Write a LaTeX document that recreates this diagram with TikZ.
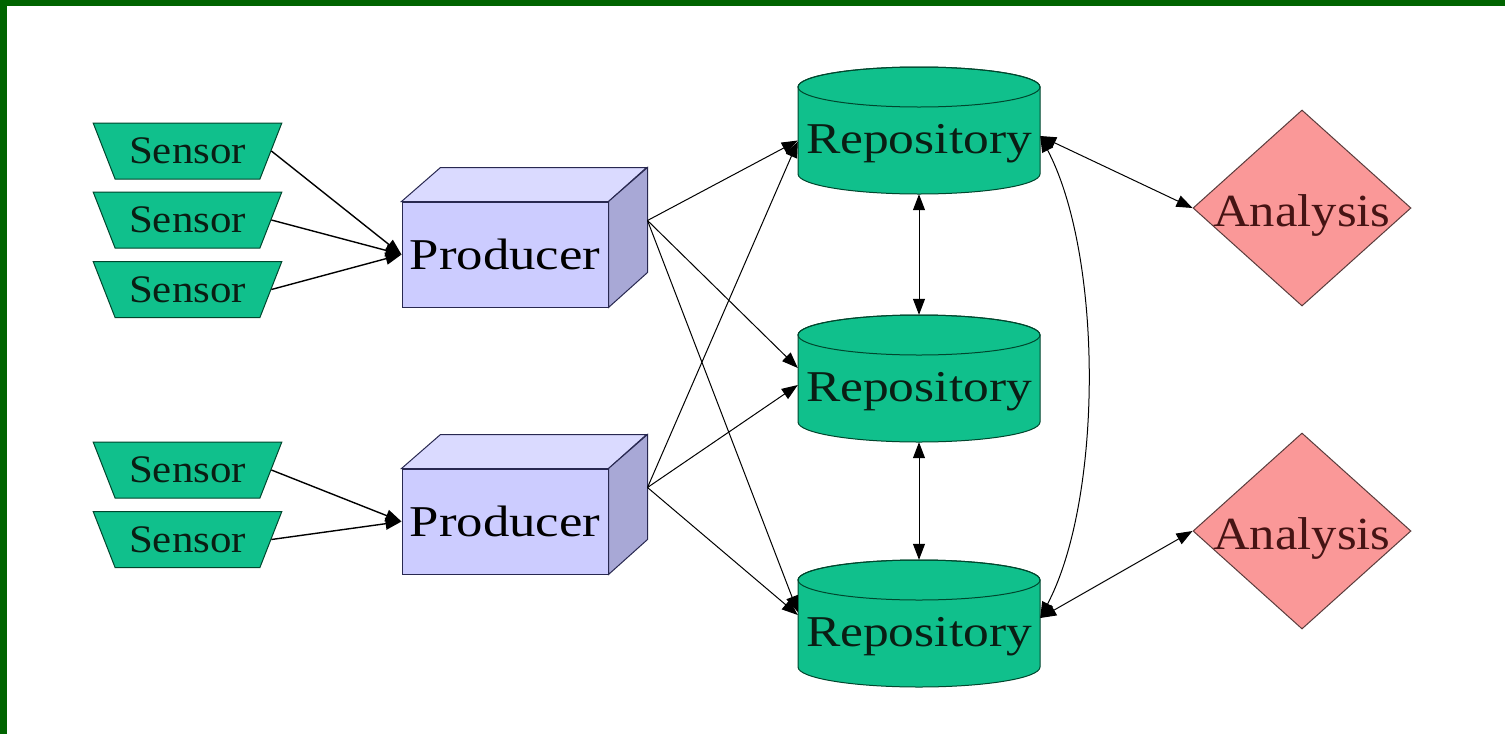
\documentclass[tikz,border=0pt]{standalone}
\usepackage{fontspec}
\setmainfont{Liberation Serif}
\newfontfamily\repfont[FakeStretch=1.17]{Liberation Serif}
\newfontfamily\prodfont[FakeStretch=1.2]{Liberation Serif}
\newfontfamily\sensfont[FakeStretch=1.1]{Liberation Serif}
\newfontfamily\anafont[FakeStretch=1.1]{Liberation Serif}
\usetikzlibrary{shapes.geometric,arrows.meta,calc}
\definecolor{framegreen}{RGB}{0,100,0}
\definecolor{greenfill}{RGB}{16,192,140}
\definecolor{greenline}{RGB}{0,70,45}
\definecolor{prodfront}{RGB}{204,204,255}
\definecolor{prodtop}{RGB}{218,218,255}
\definecolor{prodside}{RGB}{168,168,214}
\definecolor{prodline}{RGB}{40,40,80}
\definecolor{salmonfill}{RGB}{250,152,152}
\definecolor{salmonline}{RGB}{90,60,60}
\definecolor{anatext}{RGB}{70,20,20}
\definecolor{darktext}{RGB}{10,30,20}
\newcommand\repository[3]{%
  \filldraw[repoline, fill=greenfill] (#2-121,#3+20) -- (#2-121,#3+107)
     arc[start angle=180,end angle=0,x radius=121,y radius=20]
     -- (#2+121,#3+20)
     arc[start angle=0,end angle=-180,x radius=121,y radius=20] -- cycle;
  \draw[repoline] (#2,#3+20) ellipse[x radius=121,y radius=20];
  \node[repobox] (#1) at (#2,#3+63.5) {};
  \node[repotext, anchor=base] (#1t) at (#2,#3+86) {Repository};
}
\begin{document}
\begin{tikzpicture}[x=1pt,y=-1pt,
  >={Triangle[length=16pt,width=12pt]},
  sensor/.style={trapezium, trapezium angle=56, shape border rotate=180,
    trapezium stretches=true, minimum width=189pt, minimum height=56pt,
    inner sep=0pt, draw=greenline, fill=greenfill, line width=1pt,
    text=darktext, font=\sensfont\fontsize{39}{39}\selectfont},
  prod/.style={rectangle, minimum width=206pt, minimum height=105pt,
    inner sep=0pt, draw=prodline, fill=prodfront, line width=1pt,
    text=black, font=\prodfont\fontsize{44}{44}\selectfont},
  prodface/.style={draw=prodline, line width=1pt},
  repoline/.style={draw=greenline, line width=1pt},
  repobox/.style={rectangle, minimum width=242pt, minimum height=127pt,
    inner sep=0pt, draw=none},
  repotext/.style={inner sep=0pt, text=darktext,
    font=\repfont\fontsize{44}{44}\selectfont},
  ana/.style={diamond, shape aspect=1.11, minimum width=218pt,
    minimum height=196pt, inner sep=0pt, text height=36pt, text depth=0pt,
    draw=salmonline, fill=salmonfill, line width=1pt, text=anatext,
    font=\anafont\fontsize{46}{46}\selectfont},
  sedge/.style={draw=black, line width=1.4pt, ->},
  edge/.style={draw=black, line width=1pt, ->},
  bedge/.style={draw=black, line width=1pt, <->}
]
% page and frame
\fill[white] (0,0) rectangle (1505,734);
\fill[framegreen] (0,0) rectangle (1505,6);
\fill[framegreen] (0,0) rectangle (7,734);

% sensors
\node[sensor] (s1) at (187.5,151) {Sensor};
\node[sensor] (s2) at (187.5,220) {Sensor};
\node[sensor] (s3) at (187.5,289.5) {Sensor};
\node[sensor] (s4) at (187.5,470) {Sensor};
\node[sensor] (s5) at (187.5,539.5) {Sensor};

% producers
\node[prod] (p1) at (505,254.5) {Producer};
\draw[prodface, fill=prodtop] (p1.north west) -- ++(39,-34) -- ++(206,0) -- (p1.north east) -- cycle;
\draw[prodface, fill=prodside] (p1.north east) -- ++(39,-34) -- ++(0,105) -- (p1.south east) -- cycle;
\node[prod] (p2) at (505,521.5) {Producer};
\draw[prodface, fill=prodtop] (p2.north west) -- ++(39,-34) -- ++(206,0) -- (p2.north east) -- cycle;
\draw[prodface, fill=prodside] (p2.north east) -- ++(39,-34) -- ++(0,105) -- (p2.south east) -- cycle;

% repositories
\repository{r1}{919}{67}
\repository{r2}{919}{315}
\repository{r3}{919}{560}

% analyses
\node[ana] (a1) at (1302,208) {Analysis};
\node[ana] (a2) at (1302,531) {Analysis};

% sensor -> producer
\draw[sedge] (s1.east) -- (p1.west);
\draw[sedge] (s2.east) -- (p1.west);
\draw[sedge] (s3.east) -- (p1.west);
\draw[sedge] (s4.east) -- (p2.west);
\draw[sedge] (s5.east) -- (p2.west);

% producer -> repository
\draw[edge] ([xshift=39pt,yshift=34pt]p1.east) -- ([yshift=-10pt]r1.west);
\draw[edge] ([xshift=39pt,yshift=34pt]p1.east) -- ([yshift=10.5pt]r2.west);
\draw[edge] ([xshift=39pt,yshift=34pt]p1.east) -- ([yshift=11.5pt]r3.west);
\draw[edge] ([xshift=39pt,yshift=34pt]p2.east) -- ([yshift=-11pt]r1.west);
\draw[edge] ([xshift=39pt,yshift=34pt]p2.east) -- ([yshift=-6.5pt]r2.west);
\draw[edge] ([xshift=39pt,yshift=34pt]p2.east) -- ([yshift=8.5pt]r3.west);

% repository <-> repository
\draw[bedge] (r1.south) -- (r2.north);
\draw[bedge] (r2.south) -- (r3.north);
\draw[bedge] ([yshift=-5.5pt]r1.east) .. controls +(63,120) and +(63,-120) .. ([yshift=5.5pt]r3.east);

% repository <-> analysis
\draw[bedge] ([yshift=-5.5pt]r1.east) -- (a1.west);
\draw[bedge] ([yshift=5.5pt]r3.east) -- (a2.west);
\end{tikzpicture}
\end{document}
